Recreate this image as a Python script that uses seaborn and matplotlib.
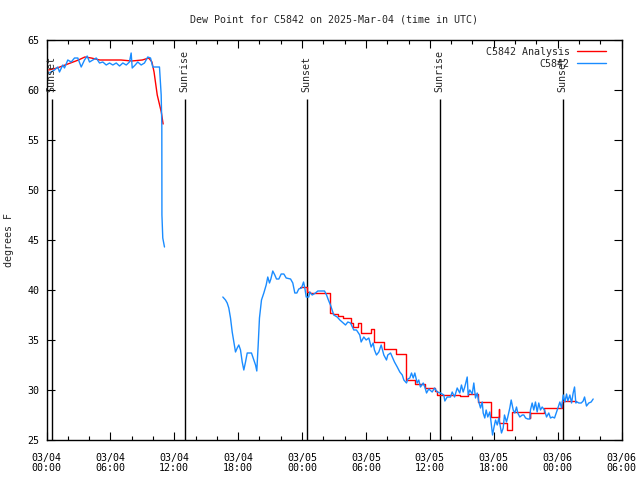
import pandas as pd
import numpy as np
import matplotlib
matplotlib.use('Agg')
import matplotlib.pyplot as plt
import matplotlib.dates as mdates
from matplotlib.lines import Line2D
import seaborn as sns

# hours since 2025-03-04 00:00 UTC, values in degrees F
obs1_hours = [0.28, 0.75, 1.06, 1.22, 1.53, 1.69, 2.0, 2.32, 2.63, 2.94, 3.26, 3.57, 3.82, 4.04,
              4.35, 4.67, 4.98, 5.29, 5.61, 5.92, 6.23, 6.55, 6.86, 7.17, 7.49, 7.79, 7.95, 8.05,
              8.33, 8.57, 8.89, 9.2, 9.51, 9.77, 9.98, 10.61, 10.77, 10.83, 10.84, 10.92, 11.08]
obs1_dew = [61.7, 62.0, 62.3, 61.8, 62.5, 62.2, 63.0, 62.8, 63.2, 63.2, 62.3, 63.0, 63.4, 62.8,
            63.0, 63.2, 62.7, 62.8, 62.5, 62.7, 62.5, 62.7, 62.4, 62.7, 62.5, 62.8, 63.7, 62.2,
            62.5, 62.8, 62.5, 62.7, 63.3, 63.2, 62.3, 62.3, 59.5, 56.5, 47.5, 45.2, 44.3]

obs2_hours = [16.56, 16.81, 16.97, 17.12, 17.28, 17.44, 17.59, 17.75, 17.91, 18.06, 18.22, 18.38,
              18.53, 18.69, 18.85, 19.25, 19.47, 19.63, 19.75, 19.88, 20.0, 20.19, 20.41, 20.63,
              20.78, 20.94, 21.07, 21.25, 21.44, 21.6, 21.82, 22.04, 22.29, 22.51, 22.92, 23.13,
              23.32, 23.51, 23.69, 23.95, 24.14, 24.26, 24.39, 24.48, 24.63, 24.72, 24.95, 25.26,
              25.48, 25.8, 26.11, 26.3, 26.51, 26.67, 26.83, 26.98, 27.3, 27.55, 27.86, 28.08,
              28.3, 28.55, 28.86, 29.11, 29.42, 29.55, 29.8, 30.02, 30.27, 30.49, 30.68, 30.8,
              30.99, 31.21, 31.43, 31.68, 31.93, 32.05, 32.31, 32.52, 32.68, 32.94, 33.18, 33.41,
              33.56, 33.81, 33.93, 34.12, 34.28, 34.44, 34.59, 34.81, 34.96, 35.12, 35.38, 35.56,
              35.69, 35.9, 36.22, 36.44, 36.69, 37.0, 37.31, 37.41, 37.63, 37.94, 38.1, 38.32,
              38.57, 38.81, 38.97, 39.13, 39.28, 39.51, 39.6, 39.75, 39.98, 40.13, 40.29, 40.45,
              40.6, 40.76, 40.92, 41.01, 41.16, 41.29, 41.44, 41.63, 41.76, 41.89, 42.01, 42.17,
              42.33, 42.48, 42.64, 42.73, 42.89, 43.01, 43.2, 43.32, 43.51, 43.64, 43.83, 43.98,
              44.14, 44.26, 44.45, 44.68, 44.83, 44.99, 45.2, 45.39, 45.45, 45.61, 45.76, 45.92,
              46.08, 46.23, 46.39, 46.55, 46.77, 46.96, 47.17, 47.33, 47.52, 47.71, 47.87, 48.06,
              48.21, 48.37, 48.53, 48.68, 48.84, 48.96, 49.15, 49.31, 49.46, 49.59, 49.71, 49.84,
              49.99, 50.22, 50.4, 50.53, 50.71, 50.93, 51.15, 51.34]
obs2_dew = [39.3, 39.0, 38.7, 38.2, 37.2, 35.8, 34.8, 33.8, 34.2, 34.5, 34.0, 32.8,
            32.0, 32.8, 33.7, 33.7, 33.0, 32.5, 31.9, 34.5, 37.2, 39.0, 39.7, 40.5,
            41.3, 40.7, 41.1, 41.9, 41.5, 41.1, 41.1, 41.6, 41.6, 41.2, 41.1, 40.7,
            39.7, 39.7, 40.1, 40.2, 40.8, 40.2, 39.3, 39.3, 39.3, 39.8, 39.5, 39.7,
            39.9, 39.9, 39.9, 39.5, 38.9, 38.5, 38.0, 37.5, 37.3, 37.0, 36.7, 36.5,
            36.8, 36.7, 36.0, 36.0, 35.5, 34.8, 35.3, 35.0, 35.2, 34.3, 34.7, 34.0,
            33.5, 33.8, 34.5, 33.5, 33.0, 33.5, 33.7, 33.2, 32.8, 32.3, 31.8, 31.5,
            31.0, 30.7, 31.1, 31.2, 31.7, 31.2, 31.7, 30.7, 31.0, 30.3, 30.7, 30.2,
            29.7, 30.1, 29.8, 30.2, 29.8, 29.7, 29.5, 28.9, 29.3, 29.3, 29.8, 29.3,
            30.2, 29.7, 30.5, 29.8, 30.3, 31.3, 29.5, 30.0, 29.6, 30.7, 29.2, 29.7,
            28.8, 28.2, 28.8, 27.7, 27.2, 28.0, 27.3, 27.8, 26.7, 25.5, 26.2, 27.0,
            26.5, 27.2, 26.2, 25.7, 26.2, 27.5, 26.8, 27.3, 28.2, 29.0, 28.0, 27.7,
            28.3, 27.7, 27.3, 27.5, 27.5, 27.2, 27.1, 27.1, 28.0, 28.7, 28.0, 28.8,
            27.8, 28.7, 28.0, 28.3, 28.0, 27.3, 27.7, 27.2, 27.3, 27.2, 27.7, 28.3,
            28.8, 28.2, 29.5, 28.8, 29.6, 28.9, 29.5, 28.7, 29.7, 30.3, 28.7, 28.8,
            28.7, 28.7, 28.9, 29.3, 28.4, 28.7, 28.8, 29.1]

ana1_hours = [0.2, 1, 2, 3, 3.6, 4.2, 5, 6, 7, 8, 9, 9.6, 9.9, 10.1, 10.4, 10.78, 10.95]
ana1_dew = [62.0, 62.2, 62.6, 63.0, 63.3, 63.2, 63.0, 63.0, 63.0, 62.9, 63.0, 63.2, 62.8,
            61.8, 59.5, 57.8, 56.6]

ana2_hours = [23.85, 24.51, 24.79, 26.58, 26.95, 27.33, 27.89, 28.55, 28.83, 29.3, 29.58,
              30.52, 30.71, 31.65, 32.78, 33.72, 34.65, 35.59, 36.53, 36.72, 38.88, 39.54,
              40.57, 41.7, 42.45, 42.52, 43.29, 43.67, 45.4, 45.45, 46.68, 48.37, 49.68]
ana2_dew = [40.3, 39.8, 39.7, 37.7, 37.6, 37.4, 37.2, 36.7, 36.3, 36.7, 35.7,
            36.1, 34.8, 34.1, 33.6, 31.0, 30.6, 30.2, 29.9, 29.5, 29.4, 29.6,
            28.8, 27.3, 28.1, 26.7, 26.0, 27.8, 27.2, 27.7, 28.2, 28.9, 28.9]

sun_hours = [0.5, 12.99, 24.45, 36.94, 48.49]
sun_labels = ['Sunset', 'Sunrise', 'Sunset', 'Sunrise', 'Sunset']

start = pd.Timestamp('2025-03-04 00:00')
def to_time(h):
    return start + pd.to_timedelta(np.array(h), unit='h')

obs = pd.concat([
    pd.DataFrame({'time': to_time(obs1_hours), 'dew': obs1_dew, 'seg': 1}),
    pd.DataFrame({'time': to_time(obs2_hours), 'dew': obs2_dew, 'seg': 2}),
])
ana1 = pd.DataFrame({'time': to_time(ana1_hours), 'dew': ana1_dew})
ana2 = pd.DataFrame({'time': to_time(ana2_hours), 'dew': ana2_dew})

sns.set_style('ticks')
plt.rcParams['font.family'] = ['DejaVu Sans Mono']

blue = '#1a8cff'
red = '#ff0000'

fig = plt.figure(figsize=(6.4, 4.8), dpi=100)
ax = fig.add_axes([46.5 / 640, 40 / 480, 575 / 640, 400 / 480])

# sunrise / sunset markers
for h, lab in zip(sun_hours, sun_labels):
    t = to_time([h])[0]
    ax.vlines(t, 25, 59.1, color='black', lw=1.0)
    ax.text(t, 59.8, lab, rotation=90, ha='center', va='bottom', fontsize=7.2)

sns.lineplot(data=ana1, x='time', y='dew', color=red, lw=1.0, ax=ax, sort=False)
sns.lineplot(data=ana2, x='time', y='dew', color=red, lw=1.0, ax=ax, sort=False,
             drawstyle='steps-post')
sns.lineplot(data=obs, x='time', y='dew', units='seg', estimator=None, color=blue,
             lw=1.0, ax=ax, sort=False)

ax.set_xlim(start, start + pd.Timedelta(hours=54))
ax.set_ylim(25, 65)
ax.set_yticks(range(25, 66, 5))
ax.xaxis.set_major_locator(mdates.HourLocator(byhour=range(0, 24, 6)))
ax.xaxis.set_minor_locator(mdates.HourLocator(byhour=range(0, 24, 2)))
ax.xaxis.set_major_formatter(mdates.DateFormatter('%m/%d\n%H:%M'))
ax.tick_params(which='both', direction='in', top=True, right=True, colors='black',
               labelsize=7.2, width=0.8)
ax.tick_params(which='major', length=6)
ax.tick_params(which='minor', length=3)
ax.tick_params(axis='x', pad=9)
ax.tick_params(axis='y', pad=5)
for lab in ax.get_xticklabels():
    lab.set_linespacing(1.05)
for s in ax.spines.values():
    s.set_color('black')
    s.set_linewidth(1.0)

ax.set_xlabel('')
ax.set_ylabel('degrees F', fontsize=7.2, labelpad=10)

handles = [Line2D([], [], color=red, lw=1.0), Line2D([], [], color=blue, lw=1.0)]
ax.legend(handles, ['C5842 Analysis', 'C5842'], loc='upper right', frameon=False,
          markerfirst=False, fontsize=7.2, handlelength=2.9, handletextpad=0.7,
          labelspacing=0.2, bbox_to_anchor=(0.985, 1.0), borderaxespad=0.3)

fig.text(0.5215, 0.96, 'Dew Point for C5842 on 2025-Mar-04 (time in UTC)',
         ha='center', va='center', fontsize=7.2)

fig.savefig('out.png', dpi=100)
